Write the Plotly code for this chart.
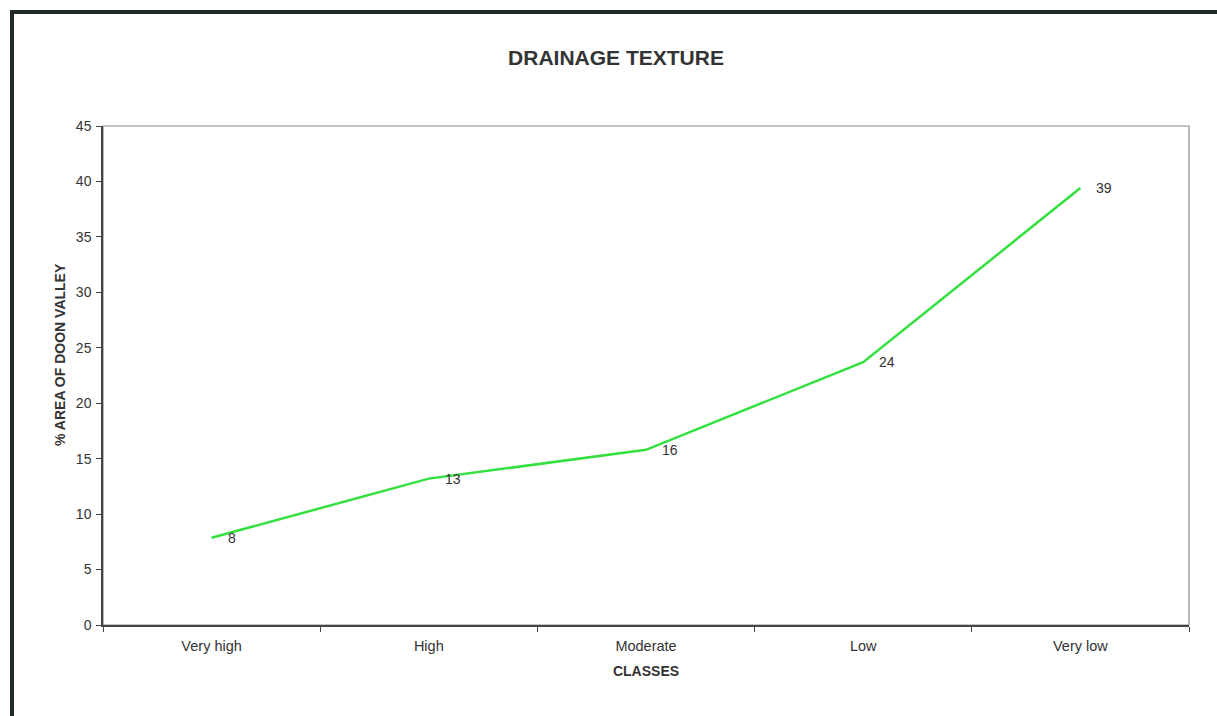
import plotly.graph_objects as go

# Drainage texture classes and the share of the valley area in each
classes = ["Very high", "High", "Moderate", "Low", "Very low"]
area_pct = [7.87, 13.2, 15.8, 23.7, 39.4]
y_ticks = [0, 5, 10, 15, 20, 25, 30, 35, 40, 45]

W, H = 1217, 716
L, R, T, B = 103, 28, 126, 91
pw, ph = W - L - R, H - T - B

def px_x(px):
    return (px - L) / pw

def px_y(py):
    return (H - B - py) / ph

text_col = "#333333"
font = "Liberation Sans, Arial, sans-serif"

fig = go.Figure()
fig.add_trace(go.Scatter(
    x=classes, y=area_pct, mode="lines",
    line=dict(color="#33e040", width=2.5),
    hoverinfo="x+y", showlegend=False,
))

# value labels to the right of each point
for c, v in zip(classes, area_pct):
    fig.add_annotation(
        x=c, y=v, text=f"{round(v)}", showarrow=False,
        xanchor="left", yanchor="middle", xshift=14,
        font=dict(family=font, size=14, color=text_col),
    )

# vertical axis title, placed a little above the plot-area centre
fig.add_annotation(
    xref="paper", yref="paper", x=px_x(60), y=px_y(355),
    text="<b>% AREA OF DOON VALLEY</b>", textangle=-90, showarrow=False,
    xanchor="center", yanchor="middle",
    font=dict(family=font, size=14, color=text_col),
)

shapes = [
    # plot-area border (top and right)
    dict(type="rect", xref="paper", yref="paper", x0=0, y0=0, x1=1, y1=1,
         line=dict(color="#8a8a8a", width=1.2), layer="below"),
    # outer frame, top and left edges
    dict(type="line", xref="paper", yref="paper",
         x0=px_x(10), x1=px_x(W + 5), y0=px_y(12), y1=px_y(12),
         line=dict(color="#1e2d25", width=4)),
    dict(type="line", xref="paper", yref="paper",
         x0=px_x(12), x1=px_x(12), y0=px_y(10), y1=px_y(H + 5),
         line=dict(color="#1e2d25", width=4)),
]

fig.update_layout(
    width=W, height=H,
    margin=dict(l=L, r=R, t=T, b=B),
    paper_bgcolor="white", plot_bgcolor="white",
    font=dict(family=font, color=text_col),
    title=dict(
        text="<b>DRAINAGE TEXTURE</b>", xref="container", x=616 / W,
        xanchor="center", yref="container", y=1 - 58 / H, yanchor="middle",
        font=dict(family=font, size=21, color=text_col),
    ),
    shapes=shapes,
    xaxis=dict(
        type="category", categoryorder="array", categoryarray=classes,
        range=[-0.5, len(classes) - 0.5],
        showgrid=False, zeroline=False,
        showline=True, linecolor="#444444", linewidth=1.5,
        ticks="outside", tickson="boundaries", ticklen=5, tickcolor="#444444",
        ticklabelstandoff=7,
        tickfont=dict(family=font, size=14.5, color=text_col),
        title=dict(text="<b>CLASSES</b>", standoff=13,
                   font=dict(family=font, size=14, color=text_col)),
    ),
    yaxis=dict(
        range=[0, 45], tickvals=y_ticks,
        showgrid=False, zeroline=False,
        showline=True, linecolor="#444444", linewidth=1.5,
        ticks="outside", ticklen=5, tickcolor="#444444",
        ticklabelstandoff=2,
        tickfont=dict(family=font, size=14, color=text_col),
    ),
)

fig.write_html("out.html")
